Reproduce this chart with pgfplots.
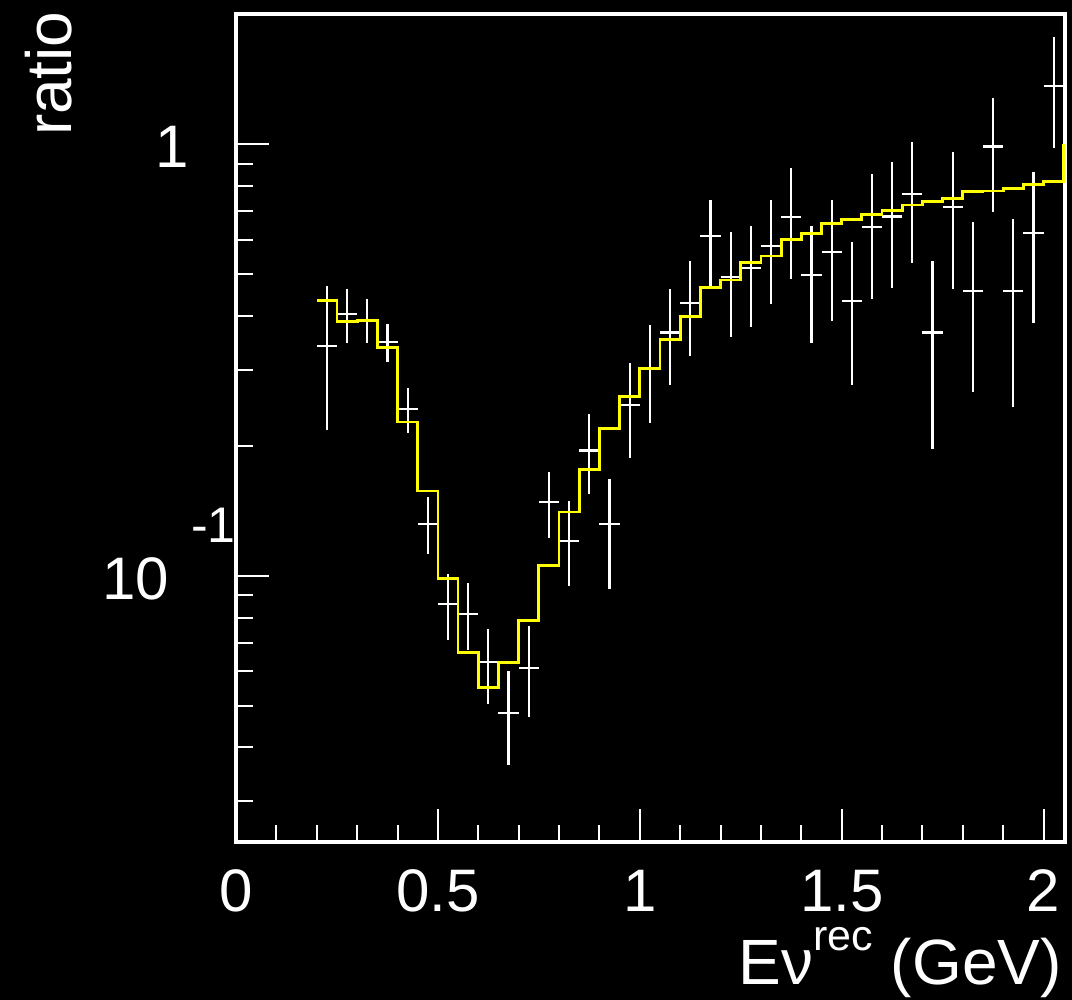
\documentclass[border=0pt]{standalone}
\usepackage{fontspec}
\setmainfont{Liberation Sans}
\usepackage{pgfplots}
\pgfplotsset{compat=1.18}
\usepackage{pgfplotstable}
\definecolor{rootyellow}{RGB}{255,255,0}

\pgfplotstableread{
x y ep em
0.225 0.341 0.128 0.1235
0.275 0.404 0.057 0.059
0.325 0.390 0.0475 0.045
0.375 0.348 0.034 0.036
0.425 0.243 0.029 0.029
0.475 0.1318 0.0207 0.0193
0.525 0.086 0.0149 0.015
0.575 0.0815 0.0146 0.0142
0.625 0.063 0.0122 0.0126
0.675 0.048 0.0123 0.0116
0.725 0.061 0.0156 0.014
0.775 0.1484 0.0251 0.0259
0.825 0.1205 0.0285 0.0259
0.875 0.1949 0.0416 0.0399
0.925 0.1318 0.0357 0.0386
0.975 0.248 0.0625 0.061
1.025 0.302 0.079 0.0765
1.075 0.366 0.095 0.0895
1.125 0.428 0.109 0.105
1.175 0.612 0.130 0.145
1.225 0.491 0.135 0.133
1.275 0.517 0.130 0.141
1.325 0.580 0.162 0.155
1.375 0.677 0.201 0.191
1.425 0.497 0.150 0.152
1.475 0.561 0.181 0.172
1.525 0.4335 0.1605 0.157
1.575 0.643 0.209 0.2055
1.625 0.679 0.231 0.216
1.675 0.765 0.244 0.236
1.725 0.366 0.171 0.169
1.775 0.713 0.244 0.2505
1.825 0.457 0.202 0.190
1.875 0.986 0.294 0.289
1.925 0.457 0.213 0.2115
1.975 0.621 0.242 0.237
2.025 1.362 0.411 0.385
}\datatab

\pgfplotstableread{
x y
0.20 0.433
0.25 0.388
0.30 0.390
0.35 0.337
0.40 0.227
0.45 0.157
0.50 0.0986
0.55 0.0665
0.60 0.0551
0.65 0.063
0.70 0.0789
0.75 0.1055
0.80 0.1405
0.85 0.176
0.90 0.2196
0.95 0.260
1.00 0.302
1.05 0.353
1.10 0.398
1.15 0.466
1.20 0.484
1.25 0.531
1.30 0.550
1.35 0.601
1.40 0.621
1.45 0.653
1.50 0.667
1.55 0.685
1.60 0.701
1.65 0.722
1.70 0.737
1.75 0.748
1.80 0.776
1.85 0.778
1.90 0.790
1.95 0.804
2.00 0.818
2.05 1.0
}\mctab

\begin{document}
\begin{tikzpicture}
\fill[black] (0,0) rectangle (536pt,500pt);
\useasboundingbox (0,0) rectangle (536pt,500pt);
\begin{axis}[
  at={(118pt,79pt)}, anchor=south west,
  scale only axis, width=414.5pt, height=414pt,
  ymode=log,
  xmin=0, xmax=2.053, ymin=0.02416, ymax=2,
  axis line style={white, line width=2.2pt},
  tick pos=left, tick align=inside,
  xtick={0,0.5,1,1.5,2},
  xticklabels={0,0.5,1,1.5,2},
  minor xtick={0.1,0.2,0.3,0.4,0.6,0.7,0.8,0.9,1.1,1.2,1.3,1.4,1.6,1.7,1.8,1.9},
  ytick={0.1,1},
  yticklabels={{10\kern11pt\raisebox{28.3pt}{\fontsize{25}{25}\selectfont -1}},{1\kern23.4pt\null}},
  minor ytick={0.03,0.04,0.05,0.06,0.07,0.08,0.09,0.2,0.3,0.4,0.5,0.6,0.7,0.8,0.9},
  major tick length=16.5pt, minor tick length=8.5pt,
  tick style={white, line width=1pt},
  xticklabel style={anchor=base, inner sep=0pt, yshift=-34.85pt, text=white, font=\fontsize{30}{30}\selectfont},
  yticklabel style={anchor=base east, inner sep=0pt, yshift=-11.7pt, text=white, font=\fontsize{30}{30}\selectfont},
  xlabel={Eν\smash{\raisebox{17pt}{\fontsize{21.5}{21.5}\selectfont rec}} (GeV)},
  xlabel style={at={(axis description cs:0.9964,-0.1727)}, anchor=base east, inner sep=0pt, text=white, font=\fontsize{32}{32}\selectfont},
  ylabel={ratio},
  ylabel style={at={(axis description cs:-0.199,1.0036)}, anchor=base east, inner sep=0pt, text=white, font=\fontsize{32}{32}\selectfont},
]
\addplot[draw=none, mark=none,
  error bars/.cd, y dir=both, y explicit, x dir=both, x fixed=0.025,
  error mark=none, error bar style={draw=white, solid, line width=1.1pt}]
  table[x=x, y=y, y error plus=ep, y error minus=em] {\datatab};
\addplot[const plot, rootyellow, line width=1.4pt, mark=none]
  table[x=x, y=y] {\mctab};
\end{axis}
\end{tikzpicture}
\end{document}
